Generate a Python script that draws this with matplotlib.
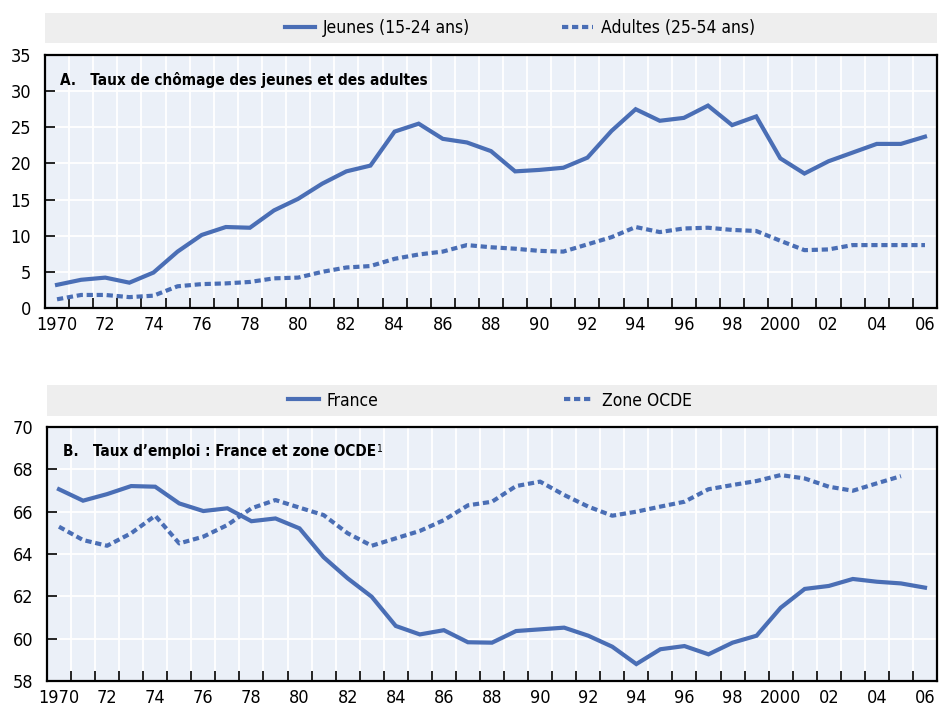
import matplotlib
matplotlib.use('Agg')
import matplotlib.pyplot as plt
from matplotlib.lines import Line2D
import numpy as np

plt.rcParams['font.family'] = ['Liberation Sans Narrow', 'DejaVu Sans']
plt.rcParams['font.stretch'] = 'condensed'

# donnees
annees = list(range(1970, 2007))

# A. taux de chomage
jeunes = [3.2, 3.9, 4.2, 3.5, 4.9, 7.8, 10.1, 11.2, 11.1, 13.5,
          15.1, 17.2, 18.9, 19.7, 24.4, 25.5, 23.4, 22.9, 21.7, 18.9,
          19.1, 19.4, 20.8, 24.5, 27.5, 25.9, 26.3, 28.0, 25.3, 26.5,
          20.7, 18.6, 20.3, 21.5, 22.7, 22.7, 23.7]
adultes = [1.2, 1.8, 1.8, 1.5, 1.7, 3.0, 3.3, 3.4, 3.6, 4.1,
           4.2, 5.0, 5.6, 5.8, 6.8, 7.4, 7.8, 8.7, 8.4, 8.2,
           7.9, 7.8, 8.8, 9.8, 11.2, 10.5, 11.0, 11.1, 10.8, 10.65,
           9.3, 8.0, 8.1, 8.7, 8.7, 8.7, 8.7]

# B. taux d'emploi
france = [67.06, 66.52, 66.83, 67.21, 67.18, 66.39, 66.03, 66.16, 65.55, 65.68,
          65.21, 63.85, 62.85, 61.98, 60.6, 60.2, 60.4, 59.83, 59.81, 60.36,
          60.44, 60.52, 60.14, 59.62, 58.8, 59.5, 59.65, 59.26, 59.81, 60.14,
          61.46, 62.35, 62.49, 62.82, 62.69, 62.61, 62.41]
annees_ocde = list(range(1970, 2006))
ocde = [65.29, 64.66, 64.39, 64.98, 65.81, 64.5, 64.82, 65.37, 66.16, 66.55,
        66.19, 65.84, 64.98, 64.39, 64.74, 65.09, 65.6, 66.3, 66.47, 67.21,
        67.42, 66.79, 66.24, 65.81, 66.0, 66.24, 66.47, 67.06, 67.26, 67.45,
        67.73, 67.57, 67.18, 66.99, 67.34, 67.68]

etiquettes_x = ['1970', '72', '74', '76', '78', '80', '82', '84', '86', '88',
                '90', '92', '94', '96', '98', '2000', '02', '04', '06']

BLEU = '#4A6EB5'
FOND = '#EBF0F8'
BANDE = '#EEEEEE'
LW = 3.0
TIRETS = (1.5, 0.9)


def preparer_axe(ax, ymin, ymax, pas):
    ax.set_facecolor(FOND)
    ax.set_xlim(1969.5, 2006.5)
    ax.set_ylim(ymin, ymax)
    ax.set_xticks(range(1970, 2007, 2))
    ax.set_xticklabels(etiquettes_x)
    ax.set_xticks(np.arange(1970.5, 2006.5, 1), minor=True)
    ax.set_yticks(np.arange(ymin, ymax + 0.1, pas))
    ax.tick_params(axis='x', which='major', length=0, pad=6, labelsize=13)
    ax.tick_params(axis='x', which='minor', direction='in', length=7, width=1.2)
    ax.tick_params(axis='y', direction='in', length=7, width=1.2, pad=10, labelsize=13)
    ax.grid(True, which='minor', axis='x', color='white', lw=1.3)
    ax.grid(True, which='major', axis='y', color='white', lw=1.3)
    ax.grid(False, which='major', axis='x')
    ax.set_axisbelow(True)
    for s in ax.spines.values():
        s.set_linewidth(1.6)
        s.set_color('black')


def bande_legende(fig, rect, handles, positions):
    # chaque entree a sa propre colonne, a position fixe
    bande = fig.add_axes(rect)
    bande.set_facecolor(BANDE)
    bande.set_xticks([])
    bande.set_yticks([])
    for s in bande.spines.values():
        s.set_visible(False)
    for i, (h, x) in enumerate(zip(handles, positions)):
        leg = bande.legend(handles=[h], loc='center left', bbox_to_anchor=(x, 0.5),
                           frameon=False, fontsize=12.5, handlelength=1.75,
                           handletextpad=0.45, borderpad=0, borderaxespad=0)
        if i < len(handles) - 1:
            bande.add_artist(leg)


fig = plt.figure(figsize=(9.39, 7.07), dpi=100)

# ---- panneau A ----
axA = fig.add_axes([0.0479, 0.5644, 0.950, 0.3578])
preparer_axe(axA, 0, 35, 5)
axA.plot(annees, jeunes, color=BLEU, lw=LW, solid_joinstyle='miter')
axA.plot(annees, adultes, color=BLEU, lw=LW, dashes=TIRETS)
axA.text(0.017, 0.90, 'A.   Taux de chômage des jeunes et des adultes',
         transform=axA.transAxes, fontsize=11, fontweight='bold', va='center')

hA = [Line2D([], [], color=BLEU, lw=LW, label='Jeunes (15-24 ans)'),
      Line2D([], [], color=BLEU, lw=LW, dashes=TIRETS, label='Adultes (25-54 ans)')]
bande_legende(fig, [0.0479, 0.9392, 0.950, 0.0424], hA, [0.269, 0.580])

# ---- panneau B ----
axB = fig.add_axes([0.0500, 0.0368, 0.9479, 0.3592])
preparer_axe(axB, 58, 70, 2)
axB.plot(annees, france, color=BLEU, lw=LW, solid_joinstyle='miter')
axB.plot(annees_ocde, ocde, color=BLEU, lw=LW, dashes=TIRETS)
t = axB.text(0.018, 0.905, 'B.   Taux d\u2019emploi : France et zone OCDE',
             transform=axB.transAxes, fontsize=11, fontweight='bold', va='center')
axB.annotate('1', xy=(1.0, 0.95), xycoords=t, fontsize=7.5, va='top', ha='left')

hB = [Line2D([], [], color=BLEU, lw=LW, label='France'),
      Line2D([], [], color=BLEU, lw=LW, dashes=TIRETS, label='Zone OCDE')]
bande_legende(fig, [0.0500, 0.4116, 0.9479, 0.0438], hB, [0.271, 0.581])

fig.savefig('out.png', dpi=100)
